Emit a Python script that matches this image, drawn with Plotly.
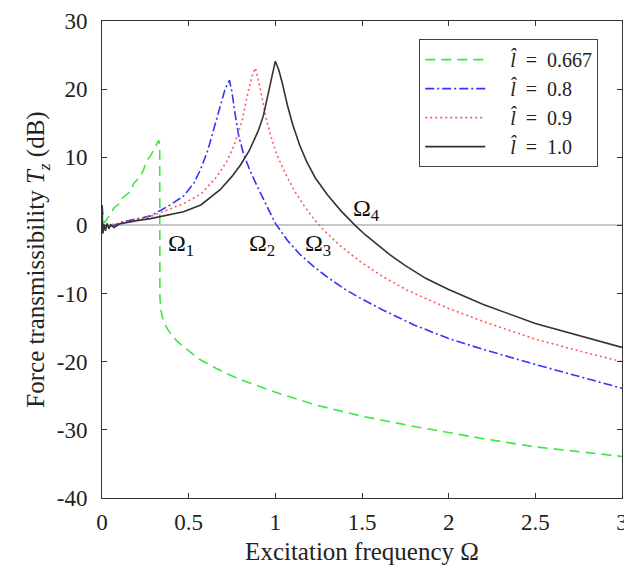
import plotly.graph_objects as go

# ---------------- data ----------------
omega_green = [0, 0.015, 0.03, 0.05, 0.07, 0.1, 0.116, 0.145, 0.165, 0.184, 0.2, 0.222,
               0.24, 0.26, 0.28, 0.298, 0.315, 0.327, 0.333, 0.334, 0.34, 0.35, 0.365,
               0.38, 0.4, 0.43, 0.47, 0.56, 0.66, 0.76, 0.86, 1.05, 1.24, 1.5, 1.8, 2.0,
               2.2, 2.5, 2.78, 3.0]
tz_green = [3.0, 0.4, 1.0, 1.8, 2.6, 3.2, 4.0, 4.6, 5.0, 6.2, 6.6, 7.2,
            8.2, 9.6, 10.2, 11.1, 11.8, 12.5, 11.8, -10.5, -12.4, -13.6, -14.6,
            -15.3, -16.0, -16.9, -17.8, -19.6, -21.0, -22.2, -23.2, -24.9, -26.4, -28.0, -29.5, -30.4,
            -31.3, -32.5, -33.3, -33.9]

omega_blue = [0, 0.01, 0.03, 0.06, 0.1, 0.18, 0.28, 0.38, 0.47, 0.53, 0.57, 0.61, 0.65,
              0.68, 0.71, 0.735, 0.75, 0.765, 0.79, 0.82, 0.86, 0.9, 0.95, 1.0, 1.07,
              1.14, 1.22, 1.3, 1.41, 1.5, 1.62, 1.8, 2.0, 2.2, 2.5, 2.78, 3.0]
tz_blue = [0.5, -0.6, 0.2, -0.1, 0.4, 0.8, 1.4, 2.8, 4.3, 6.2, 8.3, 11.0, 14.5,
           17.2, 20.0, 21.3, 19.6, 16.8, 13.0, 10.2, 7.7, 5.5, 2.9, 0.3, -2.2,
           -4.2, -6.0, -7.6, -9.5, -10.8, -12.4, -14.6, -16.6, -18.2, -20.4, -22.4, -23.9]

omega_red = [0, 0.02, 0.05, 0.1, 0.2, 0.3, 0.38, 0.47, 0.57, 0.66, 0.72, 0.76, 0.81,
             0.84, 0.865, 0.885, 0.905, 0.925, 0.95, 0.98, 1.01, 1.06, 1.11, 1.16,
             1.22, 1.28, 1.375, 1.5, 1.62, 1.76, 1.88, 2.0, 2.2, 2.5, 2.78, 3.0]
tz_red = [0.5, -0.4, 0.1, 0.3, 0.8, 1.5, 2.3, 3.2, 4.6, 7.1, 9.4, 11.6, 15.5,
          19.3, 21.9, 23.1, 21.0, 18.5, 15.4, 12.6, 10.3, 7.5, 5.1, 3.1,
          1.0, -0.7, -3.0, -5.5, -7.5, -9.5, -10.9, -12.2, -14.1, -16.7, -18.6, -20.0]

omega_black = [0, 0.005, 0.01, 0.02, 0.03, 0.04, 0.05, 0.07, 0.1, 0.15, 0.2, 0.28, 0.38,
               0.47, 0.57, 0.68, 0.75, 0.8, 0.85, 0.9, 0.93, 0.96, 0.98, 1.0, 1.02, 1.04,
               1.07, 1.1, 1.14, 1.18, 1.23, 1.3, 1.38, 1.46, 1.52, 1.58, 1.66, 1.75, 1.87,
               2.0, 2.2, 2.5, 2.78, 3.0]
tz_black = [3.0, -1.2, 0.2, -0.8, 0.3, -0.5, 0.1, -0.3, 0.2, 0.5, 0.7, 1.0, 1.5,
            2.0, 3.0, 5.2, 7.2, 8.9, 11.0, 13.8, 16.0, 19.5, 22.2, 24.1, 22.8, 20.9,
            17.6, 14.8, 11.8, 9.4, 7.0, 4.5, 2.1, 0.0, -1.4, -2.7, -4.3, -5.9, -7.8,
            -9.4, -11.6, -14.4, -16.4, -17.9]

series_names = ["\u2003<i>l̂</i>\u2002=\u20020.667", "\u2003<i>l̂</i>\u2002=\u20020.8",
                "\u2003<i>l̂</i>\u2002=\u20020.9", "\u2003<i>l̂</i>\u2002=\u20021.0"]

x_tickvals = [0, 0.5, 1, 1.5, 2, 2.5, 3]
x_ticktext = ["0", "0.5", "1", "1.5", "2", "2.5", "3"]
y_tickvals = [-40, -30, -20, -10, 0, 10, 20, 30]
y_ticktext = ["-40", "-30", "-20", "-10", "0", "10", "20", "30"]

omega_labels = ["Ω<sub>1</sub>", "Ω<sub>2</sub>", "Ω<sub>3</sub>", "Ω<sub>4</sub>"]
omega_label_x = [0.458, 0.925, 1.248, 1.524]
omega_label_y = [-2.9, -2.9, -2.9, 2.3]

# ---------------- figure ----------------
FONT = "Liberation Serif"
fig = go.Figure()

styles = [
    dict(color="#3ee83e", dash="10px,6px"),
    dict(color="#3535f5", dash="9px,3px,2px,3px"),
    dict(color="#ff5a5a", dash="2px,3px"),
    dict(color="#333333", dash="solid"),
]
xs = [omega_green, omega_blue, omega_red, omega_black]
ys = [tz_green, tz_blue, tz_red, tz_black]
for name, x, y, st in zip(series_names, xs, ys, styles):
    fig.add_trace(go.Scatter(x=x, y=y, mode="lines", name=name,
                             line=dict(color=st["color"], dash=st["dash"], width=1.6)))

for t, ax, ay in zip(omega_labels, omega_label_x, omega_label_y):
    fig.add_annotation(x=ax, y=ay, text=t, showarrow=False,
                       font=dict(family=FONT, size=24, color="#111"))

axis_common = dict(showline=True, mirror="ticks", linecolor="#333", linewidth=1,
                   ticks="inside", ticklen=5, tickcolor="#333", showgrid=False,
                   automargin=False, ticklabeloverflow="allow",
                   tickfont=dict(family=FONT, size=23, color="#222"))

fig.update_xaxes(range=[0, 3], tickvals=x_tickvals, ticktext=x_ticktext, zeroline=False,
                 title=dict(text="Excitation frequency Ω", font=dict(family=FONT, size=25, color="#222"),
                            standoff=8),
                 ticklabelstandoff=3, **axis_common)
fig.update_yaxes(range=[-40, 30], tickvals=y_tickvals, ticktext=y_ticktext,
                 zeroline=True, zerolinecolor="#c8c8c8", zerolinewidth=1.5,
                 title=dict(text="Force transmissibility <i>T</i><sub><i>z</i></sub> (dB)",
                            font=dict(family=FONT, size=25, color="#222"), standoff=4),
                 ticklabelstandoff=9, **axis_common)

fig.update_layout(
    width=624, height=569,
    margin=dict(l=102, r=2, t=21, b=71),
    paper_bgcolor="white", plot_bgcolor="white",
    font=dict(family=FONT),
    showlegend=True,
    legend=dict(x=0.61, y=0.962, xanchor="left", yanchor="top",
                bgcolor="white", bordercolor="#444", borderwidth=1,
                font=dict(family=FONT, size=20, color="#222"),
                tracegroupgap=0, itemwidth=60),
)

# remove the page's default body margin / scrollbars so the figure fills the window
fig.write_html("out.html", config={"displayModeBar": False},
               post_script="document.body.style.margin='0';document.body.style.overflow='hidden';")
